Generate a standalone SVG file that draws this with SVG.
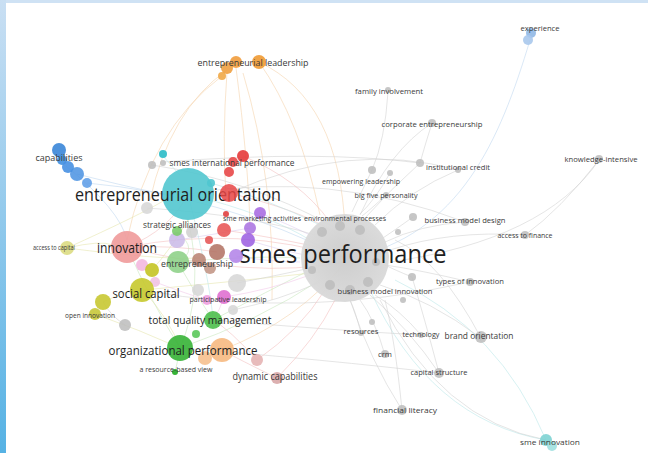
<svg xmlns="http://www.w3.org/2000/svg" width="648" height="453" viewBox="0 0 648 453">
<style>
  .lbl{font-family:"Open Sans","Liberation Sans",sans-serif;fill:#3a3a3a;text-anchor:middle}
  .big{fill:#1e1e1e}
  #connectors path{fill:none;stroke-width:1;opacity:.55}
  .eg{stroke:#cfcfcf}.er{stroke:#f2bcbc}.eo{stroke:#f4cfa6}.eb{stroke:#bcd6ef}
  .en{stroke:#c4e6ba}.ep{stroke:#dacbee}.ec{stroke:#b6e6e8}.ey{stroke:#e4e4a8}.em{stroke:#f0c4e8}
  .g{fill:#bcbcbc;opacity:.85}
  .gl{fill:#d6d6d6;opacity:.85}
</style>
<defs>
  <linearGradient id="side" x1="0" y1="0" x2="0" y2="1">
    <stop offset="0" stop-color="#c9dff3"/>
    <stop offset="1" stop-color="#56b2e4"/>
  </linearGradient>
  <radialGradient id="hub" cx="0.5" cy="0.5" r="0.5">
    <stop offset="0" stop-color="#cbcbcb"/>
    <stop offset="1" stop-color="#d9d9d9"/>
  </radialGradient>
</defs>
<rect width="648" height="453" fill="#ffffff"/>
<rect x="0" y="0" width="648" height="3" fill="#cfe2f4"/>
<rect x="0" y="0" width="6" height="453" fill="url(#side)"/>

<g id="connectors">
  <path class="eo" d="M259,62 Q340,100 345,230"/>
  <path class="eo" d="M259,62 Q300,120 320,215"/>
  <path class="eo" d="M227,70 Q170,110 150,200"/>
  <path class="eo" d="M222,76 Q150,130 127,240"/>
  <path class="eo" d="M227,72 Q222,140 226,195"/>
  <path class="eo" d="M236,68 Q248,160 250,225"/>
  <path class="eo" d="M243,73 Q275,180 272,300"/>
  <path class="eo" d="M222,350 Q300,320 345,262"/>
  <path class="eb" d="M87,183 Q220,195 345,258"/>
  <path class="eb" d="M77,174 Q140,190 165,194"/>
  <path class="eb" d="M66,166 Q120,210 127,240"/>
  <path class="eb" d="M530,40 C500,140 460,235 350,258"/>
  <path class="eg" d="M599,160 Q545,240 390,262"/>
  <path class="eg" d="M599,160 Q560,210 525,235"/>
  <path class="ec" d="M546,440 Q430,420 370,290"/>
  <path class="ec" d="M546,440 Q500,330 395,280"/>
  <path class="eg" d="M546,440 Q440,420 380,300"/>
  <path class="eg" d="M402,410 Q370,360 350,300"/>
  <path class="eg" d="M402,410 Q395,340 385,300"/>
  <path class="eg" d="M439,373 Q410,330 370,295"/>
  <path class="eg" d="M439,373 Q425,320 412,277"/>
  <path class="eg" d="M481,338 Q430,300 380,285"/>
  <path class="eg" d="M481,338 Q440,260 395,240"/>
  <path class="eg" d="M385,355 Q375,320 360,300"/>
  <path class="eg" d="M361,333 Q355,310 350,300"/>
  <path class="eg" d="M421,335 Q400,310 375,295"/>
  <path class="eg" d="M470,282 Q420,270 385,265"/>
  <path class="eg" d="M412,277 Q395,270 385,265"/>
  <path class="eg" d="M525,235 Q450,230 390,250"/>
  <path class="eg" d="M465,222 Q420,225 385,242"/>
  <path class="eg" d="M413,217 Q395,230 380,240"/>
  <path class="eg" d="M388,92 Q385,140 372,170"/>
  <path class="eg" d="M432,123 Q425,145 420,163"/>
  <path class="eg" d="M432,123 Q390,150 360,215"/>
  <path class="eg" d="M420,163 Q390,190 365,218"/>
  <path class="eg" d="M458,170 Q410,190 375,225"/>
  <path class="eg" d="M372,170 Q360,195 352,212"/>
  <path class="eg" d="M390,173 Q375,200 360,214"/>
  <path class="eg" d="M386,195 Q370,210 362,216"/>
  <path class="eg" d="M188,194 Q330,170 465,222"/>
  <path class="eg" d="M163,162 Q320,150 420,163"/>
  <path class="eg" d="M229,193 Q350,140 458,170"/>
  <path class="eg" d="M143,290 Q300,320 470,282"/>
  <path class="eg" d="M180,348 Q330,360 439,373"/>
  <path class="eg" d="M213,320 Q330,330 421,335"/>
  <path class="er" d="M127,247 Q240,225 345,258"/>
  <path class="er" d="M127,247 Q250,280 345,262"/>
  <path class="er" d="M229,193 Q300,210 330,230"/>
  <path class="er" d="M224,230 Q290,240 330,250"/>
  <path class="er" d="M243,156 Q300,180 330,222"/>
  <path class="er" d="M257,360 Q300,330 325,290"/>
  <path class="er" d="M277,378 Q315,340 335,300"/>
  <path class="er" d="M257,360 Q230,330 213,320"/>
  <path class="er" d="M277,378 Q240,360 222,350"/>
  <path class="er" d="M127,247 Q170,230 188,194"/>
  <path class="er" d="M127,247 Q175,245 217,252"/>
  <path class="en" d="M180,348 Q150,300 127,247"/>
  <path class="en" d="M180,348 Q205,290 188,220"/>
  <path class="en" d="M213,320 Q190,285 178,262"/>
  <path class="en" d="M180,348 Q260,320 320,280"/>
  <path class="en" d="M213,320 Q270,290 310,270"/>
  <path class="en" d="M178,262 Q260,255 300,258"/>
  <path class="en" d="M177,232 Q200,250 178,262"/>
  <path class="en" d="M175,372 Q178,360 180,348"/>
  <path class="ey" d="M67,248 Q100,240 113,245"/>
  <path class="ey" d="M67,248 Q140,215 165,200"/>
  <path class="ey" d="M67,248 Q160,260 200,258"/>
  <path class="ey" d="M103,302 Q125,292 132,290"/>
  <path class="ey" d="M95,314 Q140,330 180,348"/>
  <path class="ey" d="M143,290 Q170,320 180,348"/>
  <path class="ey" d="M143,290 Q250,280 320,272"/>
  <path class="ey" d="M152,270 Q170,250 188,220"/>
  <path class="ep" d="M260,213 Q290,225 310,235"/>
  <path class="ep" d="M248,240 Q280,250 305,255"/>
  <path class="ep" d="M236,256 Q270,262 300,262"/>
  <path class="ep" d="M177,240 Q210,235 250,228"/>
  <path class="em" d="M224,297 Q270,290 310,275"/>
  <path class="em" d="M207,300 Q190,295 155,282"/>
  <path class="em" d="M224,297 Q220,310 213,320"/>
  <path class="ec" d="M188,194 Q270,215 310,240"/>
  <path class="ec" d="M163,156 Q175,170 180,175"/>
  <path class="ec" d="M211,183 Q270,200 320,225"/>
  <path class="ec" d="M188,194 Q210,280 213,320"/>
  <path class="eg" d="M147,208 Q250,215 315,235"/>
  <path class="eg" d="M125,325 Q110,315 103,302"/>
  <path class="eg" d="M237,283 Q280,275 310,268"/>
  <path class="eg" d="M233,310 Q280,300 320,282"/>
  <path class="eg" d="M152,165 Q250,180 330,225"/>
</g>

<g id="n-smes-performance">
  <circle cx="345" cy="258" r="44" fill="url(#hub)" opacity=".95"/>
  <circle cx="322" cy="232" r="5" class="g" opacity=".35"/>
  <circle cx="340" cy="226" r="5" class="g" opacity=".35"/>
  <circle cx="360" cy="230" r="5" class="g" opacity=".35"/>
  <circle cx="330" cy="285" r="5" class="g" opacity=".35"/>
  <circle cx="350" cy="290" r="5" class="g" opacity=".35"/>
  <circle cx="368" cy="282" r="5" class="g" opacity=".35"/>
  <circle cx="312" cy="270" r="4" class="g" opacity=".35"/>
  <circle cx="376" cy="262" r="4" class="g" opacity=".35"/>
  <text class="lbl big" x="343" y="263" font-size="26" textLength="207" lengthAdjust="spacingAndGlyphs">smes performance</text>
</g>

<g id="n-entrepreneurial-orientation">
  <circle cx="188" cy="194" r="26" fill="#52c6cf" opacity=".9"/>
  <text class="lbl big" x="178" y="201" font-size="19" textLength="206" lengthAdjust="spacingAndGlyphs">entrepreneurial orientation</text>
</g>

<g id="n-red-cluster">
  <circle cx="243" cy="156" r="6" fill="#e53a3a" opacity=".9"/>
  <circle cx="233" cy="162" r="5" fill="#e84848" opacity=".9"/>
  <circle cx="229" cy="172" r="5" fill="#e84848" opacity=".9"/>
  <circle cx="229" cy="193" r="9" fill="#e84545" opacity=".85"/>
  <circle cx="226" cy="214" r="3" fill="#e04040" opacity=".9"/>
  <circle cx="224" cy="230" r="7" fill="#e85050" opacity=".85"/>
  <circle cx="209" cy="240" r="4" fill="#e45050" opacity=".85"/>
  <circle cx="211" cy="183" r="4" fill="#4fc6cf" opacity=".9"/>
</g>
<g id="n-smes-international-performance">
  <text class="lbl" x="232" y="166" font-size="8.5" textLength="125" lengthAdjust="spacingAndGlyphs">smes international performance</text>
</g>

<g id="n-purple-cluster">
  <circle cx="260" cy="213" r="6" fill="#a465e0" opacity=".85"/>
  <circle cx="250" cy="228" r="6" fill="#a870e0" opacity=".85"/>
  <circle cx="248" cy="240" r="7" fill="#9a5ce0" opacity=".85"/>
  <circle cx="236" cy="256" r="7" fill="#b080e8" opacity=".85"/>
  <circle cx="177" cy="240" r="8" fill="#c9b9e8" opacity=".85"/>
  <circle cx="192" cy="232" r="6" fill="#cfcfcf" opacity=".85"/>
</g>
<g id="n-brown-cluster">
  <circle cx="217" cy="252" r="8" fill="#b07060" opacity=".85"/>
  <circle cx="199" cy="260" r="7" fill="#b88070" opacity=".85"/>
  <circle cx="210" cy="268" r="6" fill="#c09080" opacity=".85"/>
</g>

<g id="n-capabilities">
  <circle cx="59" cy="150" r="7" fill="#3a86d8" opacity=".9"/>
  <circle cx="62" cy="160" r="5" fill="#3f8fe0" opacity=".9"/>
  <circle cx="68" cy="167" r="6" fill="#4790e2" opacity=".9"/>
  <circle cx="77" cy="174" r="7" fill="#4a92e2" opacity=".85"/>
  <circle cx="87" cy="183" r="5" fill="#5a9be6" opacity=".85"/>
  <text class="lbl" x="59" y="161" font-size="9" textLength="47" lengthAdjust="spacingAndGlyphs">capabilities</text>
</g>

<g id="n-cyan-small">
  <circle cx="163" cy="154" r="4" fill="#3fc2cc"/>
  <circle cx="152" cy="165" r="4" class="g"/>
  <circle cx="163" cy="163" r="3" class="g"/>
  <circle cx="147" cy="208" r="6" class="gl"/>
</g>

<g id="n-entrepreneurial-leadership">
  <circle cx="227" cy="68" r="6" fill="#f0a040" opacity=".9"/>
  <circle cx="236" cy="62" r="6" fill="#f19c3c" opacity=".9"/>
  <circle cx="259" cy="62" r="7" fill="#ef9a33" opacity=".9"/>
  <circle cx="222" cy="76" r="4" fill="#f0a848" opacity=".9"/>
  <text class="lbl" x="253" y="66" font-size="9.5" textLength="111" lengthAdjust="spacingAndGlyphs">entrepreneurial leadership</text>
</g>

<g id="n-innovation">
  <circle cx="127" cy="247" r="16" fill="#ef9a9a" opacity=".9"/>
  <text class="lbl big" x="127" y="253" font-size="14" textLength="60" lengthAdjust="spacingAndGlyphs">innovation</text>
</g>

<g id="n-strategic-alliances">
  <circle cx="177" cy="231" r="5" fill="#7ccc6c" opacity=".9"/>
  <text class="lbl" x="177" y="228" font-size="8.5" textLength="68" lengthAdjust="spacingAndGlyphs">strategic alliances</text>
</g>

<g id="n-access-to-capital">
  <circle cx="67" cy="248" r="7" fill="#dcdc82" opacity=".9"/>
  <text class="lbl" x="54" y="250" font-size="6.5" textLength="42" lengthAdjust="spacingAndGlyphs">access to capital</text>
</g>

<g id="n-entrepreneurship">
  <circle cx="142" cy="265" r="6" fill="#f2b4dc" opacity=".85"/>
  <circle cx="152" cy="270" r="7" fill="#c4c424" opacity=".9"/>
  <circle cx="178" cy="262" r="11" fill="#8fd28a" opacity=".9"/>
  <text class="lbl" x="197" y="267" font-size="9" textLength="72" lengthAdjust="spacingAndGlyphs">entrepreneurship</text>
</g>

<g id="n-social-capital">
  <circle cx="155" cy="282" r="5" fill="#f0c0e0" opacity=".85"/>
  <circle cx="142" cy="290" r="12" fill="#c6c92e" opacity=".9"/>
  <text class="lbl big" x="146" y="298" font-size="13" textLength="67" lengthAdjust="spacingAndGlyphs">social capital</text>
</g>

<g id="n-open-innovation">
  <circle cx="103" cy="302" r="8" fill="#c8c832" opacity=".9"/>
  <circle cx="95" cy="314" r="6" fill="#c8c83a" opacity=".9"/>
  <circle cx="125" cy="325" r="6" class="g"/>
  <text class="lbl" x="90" y="318" font-size="8" textLength="50" lengthAdjust="spacingAndGlyphs">open innovation</text>
</g>

<g id="n-participative-leadership">
  <circle cx="237" cy="283" r="9" class="gl"/>
  <circle cx="198" cy="290" r="6" class="gl"/>
  <circle cx="207" cy="300" r="5" fill="#f0a0e0" opacity=".9"/>
  <circle cx="224" cy="297" r="7" fill="#e070d0" opacity=".9"/>
  <circle cx="233" cy="310" r="5" class="gl"/>
  <text class="lbl" x="228" y="302" font-size="7.5" textLength="77" lengthAdjust="spacingAndGlyphs">participative leadership</text>
</g>

<g id="n-total-quality-management">
  <circle cx="213" cy="320" r="9" fill="#4cbf4c" opacity=".9"/>
  <circle cx="196" cy="334" r="4" fill="#5cc85c" opacity=".9"/>
  <text class="lbl big" x="210" y="324" font-size="11.5" textLength="123" lengthAdjust="spacingAndGlyphs">total quality management</text>
</g>

<g id="n-organizational-performance">
  <circle cx="222" cy="350" r="12" fill="#f5b070" opacity=".8"/>
  <circle cx="205" cy="358" r="7" fill="#f5b880" opacity=".8"/>
  <circle cx="180" cy="348" r="13" fill="#36b336" opacity=".9"/>
  <text class="lbl big" x="183" y="355" font-size="13" textLength="149" lengthAdjust="spacingAndGlyphs">organizational performance</text>
</g>

<g id="n-resource-based-view">
  <circle cx="175" cy="372" r="3" fill="#36b336"/>
  <text class="lbl" x="176" y="372" font-size="6.5" textLength="73" lengthAdjust="spacingAndGlyphs">a resource-based view</text>
</g>

<g id="n-dynamic-capabilities">
  <circle cx="257" cy="360" r="6" fill="#e6b4b4" opacity=".9"/>
  <circle cx="277" cy="378" r="6" fill="#d8a7a7" opacity=".9"/>
  <text class="lbl" x="275" y="380" font-size="10.5" textLength="85" lengthAdjust="spacingAndGlyphs">dynamic capabilities</text>
</g>

<g id="n-sme-marketing-activities">
  <text class="lbl" x="262" y="221" font-size="7.5" textLength="78" lengthAdjust="spacingAndGlyphs">sme marketing activities</text>
</g>
<g id="n-environmental-processes">
  <text class="lbl" x="345" y="221" font-size="7.5" textLength="82" lengthAdjust="spacingAndGlyphs">environmental processes</text>
</g>

<g id="n-experience">
  <circle cx="531" cy="33" r="5" fill="#90b8e6" opacity=".9"/>
  <circle cx="528" cy="40" r="5" fill="#a8c8ec" opacity=".9"/>
  <text class="lbl" x="540" y="31" font-size="8" textLength="39" lengthAdjust="spacingAndGlyphs">experience</text>
</g>

<g id="n-family-involvement">
  <circle cx="388" cy="90" r="3" class="g"/>
  <text class="lbl" x="389" y="94" font-size="8" textLength="68" lengthAdjust="spacingAndGlyphs">family involvement</text>
</g>

<g id="n-corporate-entrepreneurship">
  <circle cx="432" cy="123" r="4" class="g"/>
  <text class="lbl" x="432" y="127" font-size="8" textLength="101" lengthAdjust="spacingAndGlyphs">corporate entrepreneurship</text>
</g>

<g id="n-knowledge-intensive">
  <circle cx="599" cy="159" r="4" class="g"/>
  <text class="lbl" x="601" y="162" font-size="8" textLength="73" lengthAdjust="spacingAndGlyphs">knowledge-intensive</text>
</g>

<g id="n-institutional-credit">
  <circle cx="420" cy="163" r="4" class="g"/>
  <circle cx="458" cy="170" r="3" class="g"/>
  <text class="lbl" x="458" y="170" font-size="7.5" textLength="64" lengthAdjust="spacingAndGlyphs">institutional credit</text>
</g>

<g id="n-empowering-leadership">
  <circle cx="372" cy="170" r="4" class="g"/>
  <circle cx="390" cy="173" r="3" class="g"/>
  <text class="lbl" x="361" y="184" font-size="7.5" textLength="78" lengthAdjust="spacingAndGlyphs">empowering leadership</text>
</g>

<g id="n-big-five-personality">
  <circle cx="386" cy="195" r="3" class="g"/>
  <text class="lbl" x="386" y="198" font-size="7.5" textLength="63" lengthAdjust="spacingAndGlyphs">big five personality</text>
</g>

<g id="n-business-model-design">
  <circle cx="413" cy="217" r="4" class="g"/>
  <circle cx="465" cy="222" r="4" class="g"/>
  <circle cx="398" cy="232" r="3" class="g"/>
  <text class="lbl" x="465" y="223" font-size="8" textLength="81" lengthAdjust="spacingAndGlyphs">business model design</text>
</g>

<g id="n-access-to-finance">
  <circle cx="525" cy="235" r="4" class="g"/>
  <text class="lbl" x="525" y="238" font-size="7" textLength="55" lengthAdjust="spacingAndGlyphs">access to finance</text>
</g>

<g id="n-types-of-innovation">
  <circle cx="412" cy="277" r="4" class="g"/>
  <circle cx="470" cy="282" r="4" class="g"/>
  <text class="lbl" x="470" y="284" font-size="8" textLength="68" lengthAdjust="spacingAndGlyphs">types of innovation</text>
</g>

<g id="n-business-model-innovation">
  <circle cx="403" cy="300" r="3" class="g"/>
  <text class="lbl" x="385" y="294" font-size="8" textLength="95" lengthAdjust="spacingAndGlyphs">business model innovation</text>
</g>

<g id="n-resources">
  <circle cx="372" cy="322" r="3" class="g"/>
  <circle cx="361" cy="333" r="3" class="g"/>
  <text class="lbl" x="361" y="334" font-size="7.5" textLength="35" lengthAdjust="spacingAndGlyphs">resources</text>
</g>

<g id="n-technology">
  <circle cx="421" cy="335" r="3" class="g"/>
  <text class="lbl" x="421" y="337" font-size="7" textLength="37" lengthAdjust="spacingAndGlyphs">technology</text>
</g>

<g id="n-brand-orientation">
  <circle cx="481" cy="337" r="6" class="g"/>
  <text class="lbl" x="479" y="339" font-size="9" textLength="69" lengthAdjust="spacingAndGlyphs">brand orientation</text>
</g>

<g id="n-crm">
  <circle cx="385" cy="354" r="4" class="g"/>
  <text class="lbl" x="385" y="357" font-size="7" textLength="14" lengthAdjust="spacingAndGlyphs">crm</text>
</g>

<g id="n-capital-structure">
  <circle cx="439" cy="373" r="5" class="g"/>
  <text class="lbl" x="439" y="375" font-size="8" textLength="57" lengthAdjust="spacingAndGlyphs">capital structure</text>
</g>

<g id="n-financial-literacy">
  <circle cx="402" cy="410" r="5" class="g"/>
  <text class="lbl" x="405" y="413" font-size="8" textLength="64" lengthAdjust="spacingAndGlyphs">financial literacy</text>
</g>

<g id="n-sme-innovation">
  <circle cx="546" cy="440" r="6" fill="#7dd3d3" opacity=".9"/>
  <circle cx="552" cy="446" r="5" fill="#9ee0e0" opacity=".9"/>
  <text class="lbl" x="550" y="445" font-size="8" textLength="60" lengthAdjust="spacingAndGlyphs">sme innovation</text>
</g>
</svg>
